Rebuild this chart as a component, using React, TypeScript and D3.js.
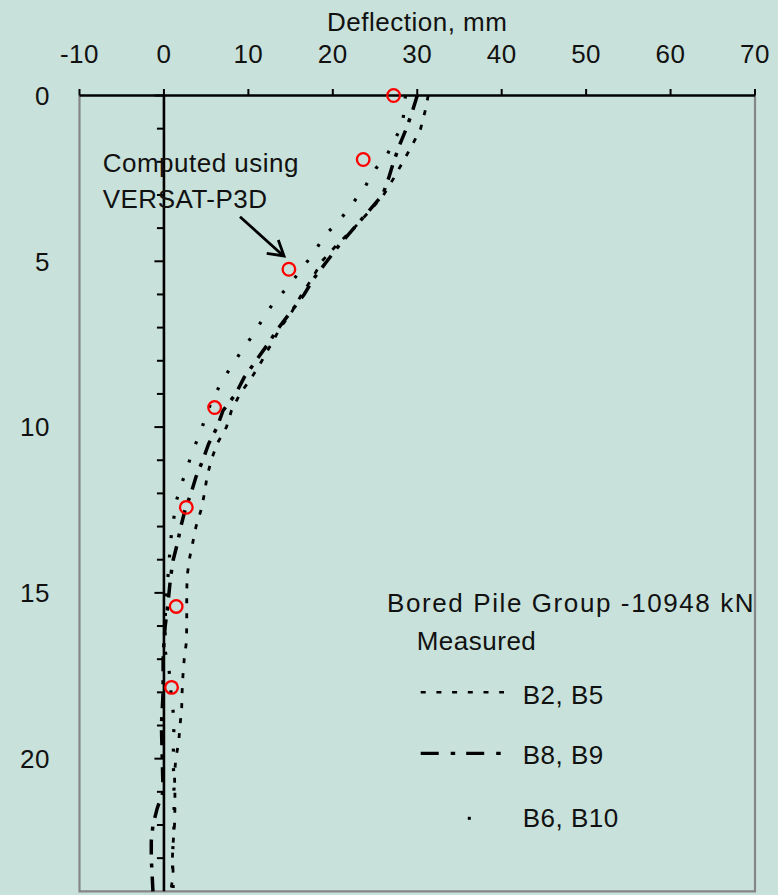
import React from "react";
import * as d3 from "d3";

// Depth (m) and lateral deflection (mm) for each measured pile pair
const b2b5Depth = [0, 0.5, 1, 1.5, 2, 2.5, 3, 3.5, 4, 4.5, 5, 5.5, 6, 6.5, 7, 7.5, 8, 8.5, 9, 9.5, 10, 10.5, 11, 11.5, 12, 12.5, 13, 13.5, 14, 14.5, 15, 16, 16.5, 17, 17.5, 18, 18.5, 19, 19.5, 20, 20.5, 21, 21.5, 22, 22.5, 23, 23.5, 24];
const b2b5Defl = [31.3, 30.9, 30.4, 29.4, 28.3, 27.2, 26.0, 24.3, 22.5, 20.5, 18.7, 17.6, 16.3, 15.2, 13.8, 12.7, 11.6, 10.4, 9.0, 8.0, 7.4, 6.3, 5.6, 5.1, 4.8, 4.4, 3.8, 3.4, 3.0, 2.75, 2.7, 2.7, 2.65, 2.4, 2.25, 2.15, 2.1, 1.9, 1.75, 1.4, 1.25, 1.3, 1.3, 1.25, 1.1, 1.0, 1.1, 0.8];

const b8b9Depth = [0, 0.5, 1, 1.5, 2, 2.5, 3, 3.5, 4, 4.5, 5, 5.5, 6, 6.5, 7, 7.5, 8, 8.5, 9, 9.5, 10, 10.5, 11, 11.5, 12, 12.5, 13, 13.5, 14, 14.5, 15, 15.5, 16, 16.5, 17, 18, 19, 20, 21, 21.5, 22, 22.5, 23, 23.5, 24];
const b8b9Defl = [30.0, 29.4, 28.7, 27.9, 27.2, 26.6, 25.9, 24.2, 22.5, 20.8, 19.3, 17.8, 16.6, 15.1, 13.6, 12.3, 10.9, 9.5, 8.5, 7.0, 6.3, 5.3, 4.6, 3.8, 3.2, 2.5, 2.0, 1.6, 1.1, 0.8, 0.6, 0.4, 0.15, 0, -0.1, -0.1, -0.3, -0.2, -0.1, -0.8, -1.3, -1.5, -1.5, -1.4, -1.3];

const b6b10Depth = [0, 0.5, 0.8, 1.2, 1.8, 2.2, 2.8, 3.2, 3.8, 4.2, 4.8, 5.2, 5.8, 6.2, 6.7, 7.2, 7.7, 8.2, 8.7, 9.2, 9.7, 10.2, 10.7, 11.2, 11.7, 12.2, 12.7, 13.2, 13.7, 14.2, 15.2, 16.7, 17.3, 18.2, 18.8, 20, 21, 22, 23, 24];
const b6b10Defl = [28.6, 28.4, 28.3, 27.6, 26.4, 25.1, 23.7, 22.5, 20.7, 19.1, 17.6, 16.4, 14.6, 13.1, 11.8, 10.6, 9.2, 7.9, 6.7, 5.7, 4.9, 4.3, 3.4, 2.8, 2.1, 1.5, 1.2, 0.9, 0.7, 0.6, 0.2, 0.1, 0.6, 0.9, 1.2, 1.1, 1.2, 1.2, 1.0, 1.1];

// VERSAT-P3D computed profile
const computedDepth = [0, 1.93, 5.24, 9.41, 12.42, 15.41, 17.85];
const computedDefl = [27.2, 23.6, 14.8, 6.0, 2.65, 1.45, 0.9];

const xTicks = [-10, 0, 10, 20, 30, 40, 50, 60, 70];
const yTicks = [0, 5, 10, 15, 20];
const yMinorTicks = d3.range(1, 24).filter((d) => d % 5 !== 0);

const W = 778;
const H = 895;
const BG = "#c8e1da";
const FONT = "'Liberation Sans', Arial, sans-serif";

const x = d3.scaleLinear().domain([-10, 70]).range([79.5, 755]);
const y = d3.scaleLinear().domain([0, 24]).range([95.5, 891.3]);

const line = d3
  .line<[number, number]>()
  .x((d) => x(d[0]))
  .y((d) => y(d[1]));

const pairs = (defl: number[], depth: number[]) =>
  defl.map((v, i) => [v, depth[i]] as [number, number]);

const series = [
  { name: "B2, B5", data: pairs(b2b5Defl, b2b5Depth), dash: "5 10", width: 2.8 },
  { name: "B8, B9", data: pairs(b8b9Defl, b8b9Depth), dash: "15 9 4 9", width: 3.5 },
  { name: "B6, B10", data: pairs(b6b10Defl, b6b10Depth), dash: "3 16.5", width: 3.2 },
];

export default function App() {
  const x0 = x(0);
  const textStyle = { fontFamily: FONT, fontSize: 26, letterSpacing: 0.5, fill: "#111" } as const;
  return (
    <svg
      width={W}
      height={H}
      style={{ position: "absolute", left: 0, top: 0, display: "block" }}
    >
      <rect x={0} y={0} width={W} height={H} fill={BG} />

      {/* plot frame */}
      <path
        d={`M${x(-10)},${y(0)} V${y(24)} H${x(70)} V${y(0)}`}
        fill="none"
        stroke="#858585"
        strokeWidth={2.2}
      />

      {/* top deflection axis */}
      <line x1={x(-10)} x2={x(70)} y1={y(0)} y2={y(0)} stroke="#000" strokeWidth={2.6} />
      {xTicks.map((t) => (
        <g key={t}>
          <line x1={x(t)} x2={x(t)} y1={y(0)} y2={y(0) - 6.5} stroke="#000" strokeWidth={2} />
          <text x={x(t)} y={62.5} textAnchor="middle" {...textStyle}>
            {t}
          </text>
        </g>
      ))}
      <text x={(x(-10) + x(70)) / 2} y={31} textAnchor="middle" {...textStyle}>
        Deflection, mm
      </text>

      {/* depth axis drawn at zero deflection */}
      <line x1={x0} x2={x0} y1={y(0)} y2={y(24)} stroke="#000" strokeWidth={2.6} />
      {yMinorTicks.map((t) => (
        <line key={t} x1={x0 - 7} x2={x0} y1={y(t)} y2={y(t)} stroke="#000" strokeWidth={2} />
      ))}
      {yTicks.map((t) => (
        <g key={t}>
          <line x1={x0 - 9.5} x2={x0} y1={y(t)} y2={y(t)} stroke="#000" strokeWidth={2} />
          <text x={50} y={y(t)} dy="0.36em" textAnchor="end" {...textStyle}>
            {t}
          </text>
        </g>
      ))}

      {/* measured profiles */}
      {series.map((s) => (
        <path
          key={s.name}
          d={line(s.data) ?? ""}
          fill="none"
          stroke="#000"
          strokeWidth={s.width}
          strokeDasharray={s.dash}
          strokeLinecap="butt"
        />
      ))}

      {/* computed profile markers */}
      {computedDefl.map((v, i) => (
        <circle
          key={i}
          cx={x(v)}
          cy={y(computedDepth[i])}
          r={6.3}
          fill="none"
          stroke="#ff0000"
          strokeWidth={2.3}
        />
      ))}

      {/* annotation */}
      <text x={102.7} y={171.7} {...textStyle}>
        Computed using
      </text>
      <text x={102.7} y={208.3} {...textStyle}>
        VERSAT-P3D
      </text>
      <line x1={240} y1={216.7} x2={283} y2={255.5} stroke="#000" strokeWidth={2.8} />
      <path
        d={`M266.7,253.3 L284,256 L278.3,240`}
        fill="none"
        stroke="#000"
        strokeWidth={2.8}
        strokeLinejoin="miter"
      />

      {/* legend */}
      <text x={387} y={612.3} {...textStyle} letterSpacing={1.6}>
        Bored Pile Group -10948 kN
      </text>
      <text x={416.7} y={650} {...textStyle}>
        Measured
      </text>
      <line x1={420.7} x2={504} y1={692.3} y2={692.3} stroke="#000" strokeWidth={2.6} strokeDasharray="5 10.7" />
      <text x={522.7} y={704} {...textStyle}>
        {series[0].name}
      </text>
      <line x1={420.7} x2={511.7} y1={753.3} y2={753.3} stroke="#000" strokeWidth={3.2} strokeDasharray="18 12 4.5 11" />
      <text x={522.7} y={764} {...textStyle}>
        {series[1].name}
      </text>
      <line x1={467.8} x2={470.8} y1={818.3} y2={818.3} stroke="#000" strokeWidth={3} />
      <text x={522.7} y={826.7} {...textStyle}>
        {series[2].name}
      </text>
    </svg>
  );
}
